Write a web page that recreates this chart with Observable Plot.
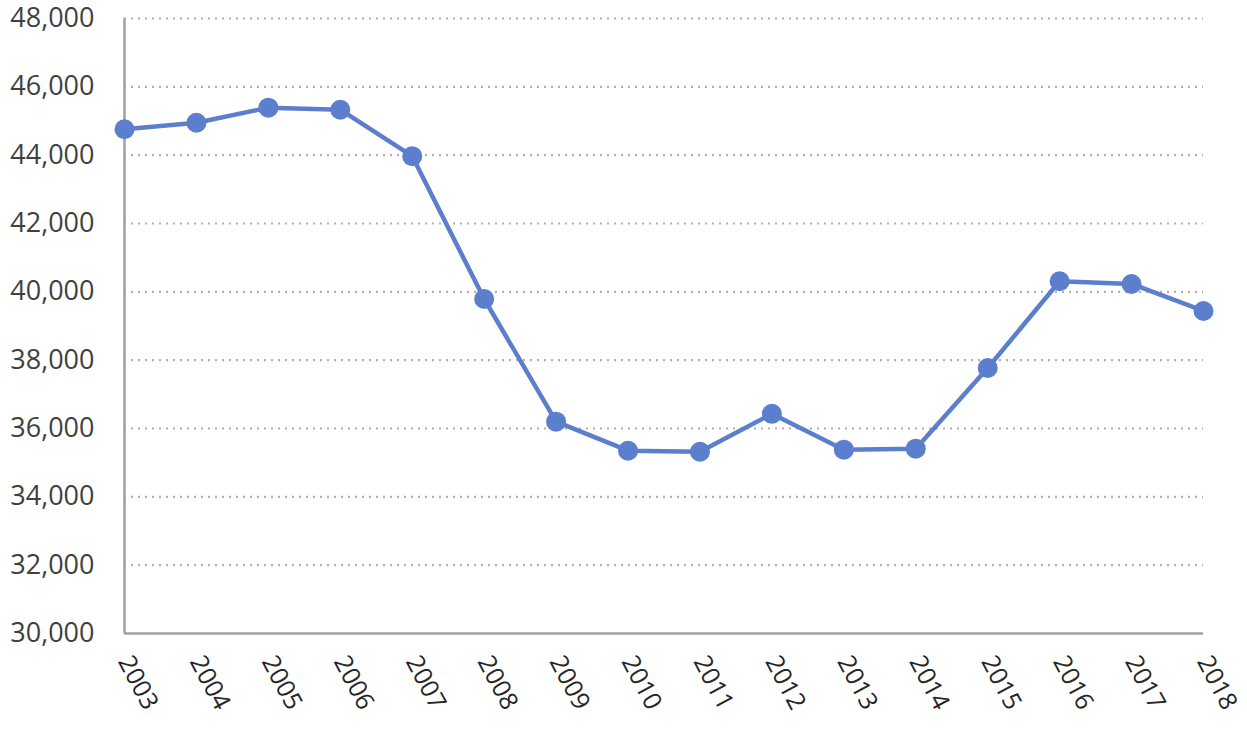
<!DOCTYPE html>
<html>
<head>
<meta charset="utf-8">
<script src="https://cdn.jsdelivr.net/npm/d3@7"></script>
<script src="https://cdn.jsdelivr.net/npm/@observablehq/plot@0.6"></script>
<style>
  html, body { margin: 0; padding: 0; background: #fff; }
  #chart svg { display: block; overflow: visible; }
</style>
</head>
<body>
<div id="chart"></div>
<script>
const years = [2003, 2004, 2005, 2006, 2007, 2008, 2009, 2010, 2011, 2012, 2013, 2014, 2015, 2016, 2017, 2018];
const values = [44760, 44950, 45390, 45330, 43970, 39790, 36200, 35350, 35320, 36430, 35380, 35410, 37770, 40310, 40230, 39440];
const yTicks = [30000, 32000, 34000, 36000, 38000, 40000, 42000, 44000, 46000, 48000];

const data = years.map((y, i) => ({year: y, value: values[i]}));

const chart = Plot.plot({
  width: 1247,
  height: 731,
  marginLeft: 124,
  marginRight: 44,
  marginTop: 18,
  marginBottom: 98,
  style: {fontFamily: "'Open Sans', 'Noto Sans', sans-serif", background: "#fff"},
  x: {type: "linear", domain: [2003, 2018]},
  y: {domain: [30000, 48000]},
  marks: [
    Plot.gridY(yTicks.slice(1), {stroke: "#b0b0b0", strokeOpacity: 1, strokeWidth: 2.2, strokeDasharray: "2,5"}),
    Plot.axisY(yTicks, {tickSize: 0, tickPadding: 30, tickFormat: d3.format(","), fontSize: 27, fill: "#404040", label: null}),
    Plot.axisX(years, {tickSize: 0, tickPadding: 24, tickRotate: 62, tickFormat: d => String(d), fontSize: 25, fill: "#262626", label: null}),
    Plot.ruleX([2003], {stroke: "#a0a0a0", strokeWidth: 2.5}),
    Plot.ruleY([30000], {stroke: "#a0a0a0", strokeWidth: 2.5}),
    Plot.line(data, {x: "year", y: "value", stroke: "#5b7fcc", strokeWidth: 4.5}),
    Plot.dot(data, {x: "year", y: "value", r: 10, fill: "#5b7fcc", stroke: "none"})
  ]
});
document.getElementById("chart").appendChild(chart);
</script>
</body>
</html>
